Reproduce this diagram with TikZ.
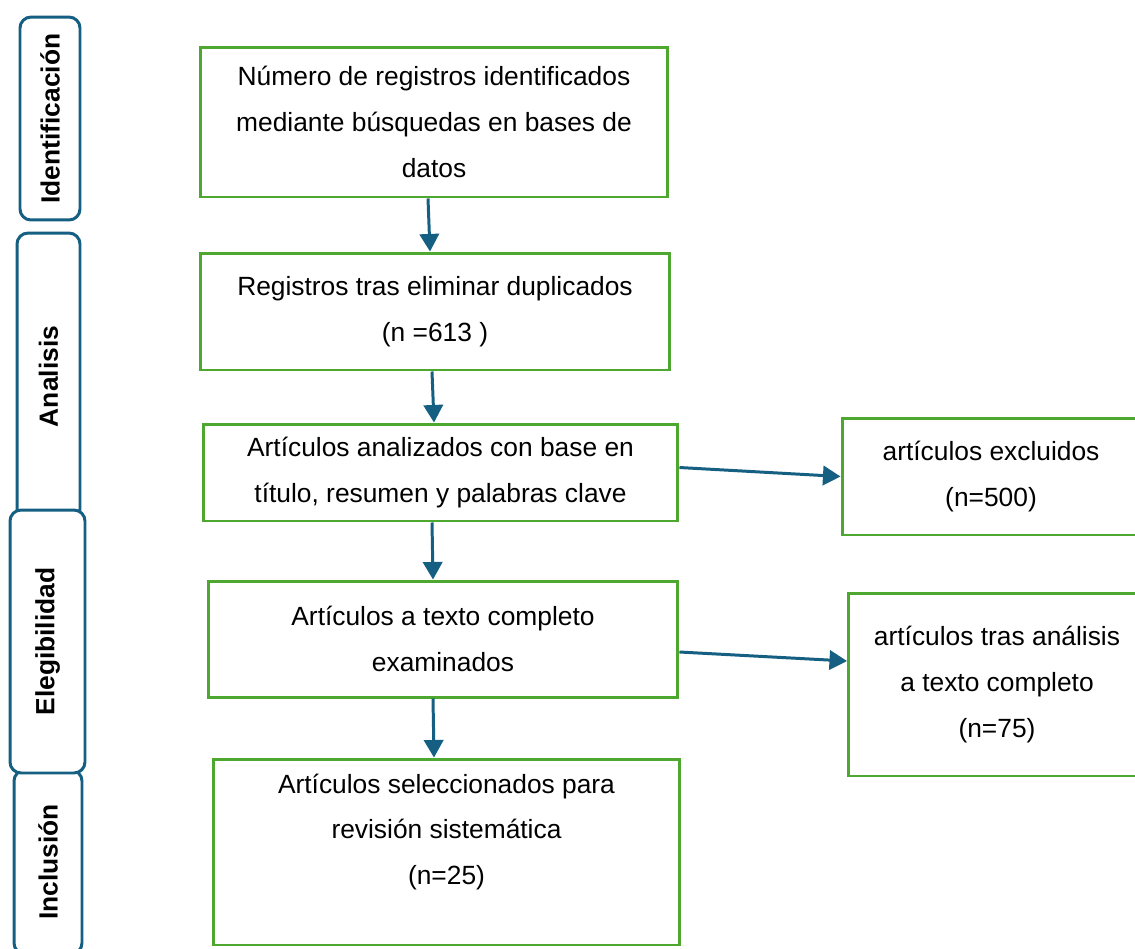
\documentclass[tikz,border=0pt]{standalone}
\usepackage{fontspec}
\setmainfont{Liberation Sans}
\usetikzlibrary{arrows.meta}
\definecolor{verde}{HTML}{4EA72E}
\definecolor{azul}{HTML}{156082}

\begin{document}
\begin{tikzpicture}[x = 0.02 cm, y = -0.02 cm,
	caja/.style = {draw = verde, line width = 1.7 pt, align = center, inner sep = 0 pt, font = \fontsize{15}{26}\selectfont},
	fase/.style = {draw = azul, fill = white, line width = 1.7 pt, rounded corners = 0.22 cm, rotate = 90, inner sep = 0 pt, font = \fontsize{15}{18}\selectfont\bfseries},
	flecha/.style = {draw = azul, line width = 1.7 pt, -{Triangle[length=10pt, width=11pt]}}]
	 \clip (0, 0) rectangle (1135, 948);
	 \fill[white] (0, 0) rectangle (1135, 948);
	 
	 % fases
	 \node[fase, minimum width = 5.74 cm, minimum height = 1.26 cm] (fan) at (48.5, 376.5) {Analisis};
	 \node[fase, minimum width = 3.68 cm, minimum height = 1.36 cm] (fin) at (48, 862) {Inclusión};
	 \node[fase, minimum width = 5.26 cm, minimum height = 1.5 cm] (fel) at (47.5, 641.5) {Elegibilidad};
	 \node[fase, minimum width = 4.06 cm, minimum height = 1.2 cm] (fid) at (50, 118.5) {Identificación};
	 
	 % cajas
	 \node[caja, minimum width = 9.36 cm, minimum height = 3.0 cm] (id) at (434, 122) {Número de registros identificados\\mediante búsquedas en bases de\\datos};
	 \node[caja, minimum width = 9.4 cm, minimum height = 2.34 cm] (dup) at (435, 311.5) {Registros tras eliminar duplicados\\(n =613 )};
	 \node[caja, minimum width = 9.5 cm, minimum height = 1.94 cm] (tit) at (440.5, 472.5) {Artículos analizados con base en\\título, resumen y palabras clave};
	 \node[caja, minimum width = 9.4 cm, minimum height = 2.32 cm] (comp) at (443, 639) {Artículos a texto completo\\examinados};
	 \node[caja, minimum width = 9.34 cm, minimum height = 3.72 cm] (sel) at (446.5, 852) {Artículos seleccionados para\\revisión sistemática\\(n=25)\\\mbox{}};
	 \node[caja, minimum width = 5.96 cm, minimum height = 2.34 cm] (excl) at (991, 476.5) {artículos excluidos\\(n=500)};
	 \node[caja, minimum width = 5.94 cm, minimum height = 3.66 cm] (tras) at (997, 684.5) {artículos tras análisis\\a texto completo\\(n=75)};
	 
	 % flechas
	 \draw[flecha] ([xshift = -0.12 cm]id.south) -- ([xshift = -0.1 cm]dup.north);
	 \draw[flecha] ([xshift = -0.06 cm]dup.south) -- ([xshift = -0.13 cm]tit.north);
	 \draw[flecha] ([xshift = -0.17 cm]tit.south) -- ([xshift = -0.2 cm]comp.north);
	 \draw[flecha] ([xshift = -0.2 cm]comp.south) -- ([xshift = -0.25 cm]sel.north);
	 \draw[flecha] ([yshift = 0.1 cm]tit.east) -- (excl.west);
	 \draw[flecha] ([yshift = -0.26 cm]comp.east) -- ([yshift = 0.47 cm]tras.west);
	 \end{tikzpicture}
\end{document}
